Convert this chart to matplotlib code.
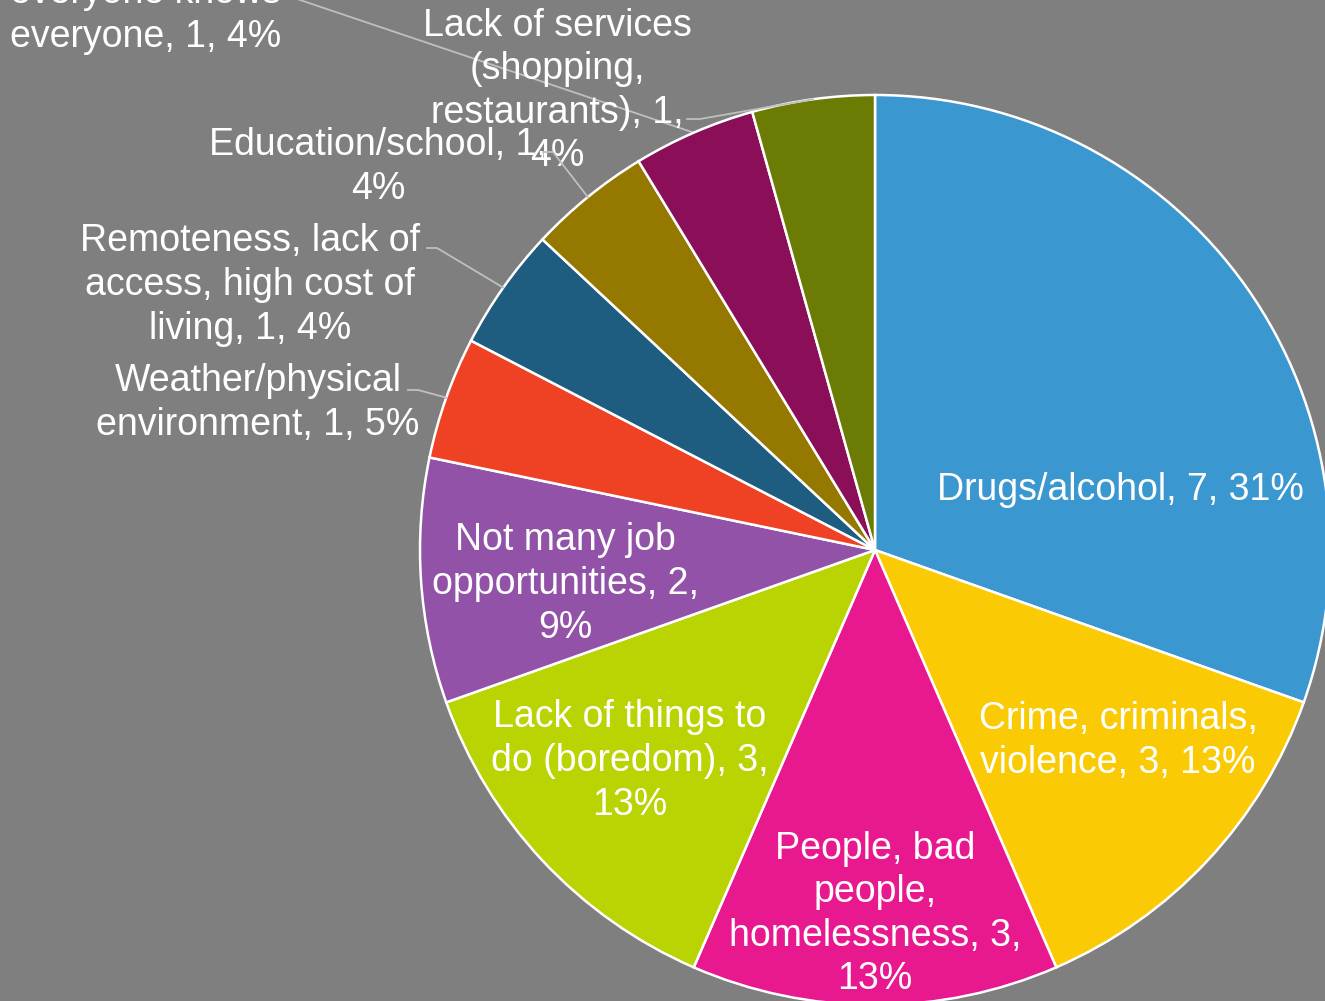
import numpy as np
import matplotlib
matplotlib.use("Agg")
from matplotlib import pyplot as plt

plt.rcParams['font.family'] = ['Liberation Sans', 'DejaVu Sans']

categories = ["Drugs/alcohol", "Crime, criminals,\nviolence", "People, bad\npeople,\nhomelessness",
              "Lack of things to\ndo (boredom)", "Not many job\nopportunities",
              "Weather/physical\nenvironment", "Remoteness, lack of\naccess, high cost of\nliving",
              "Education/school", "Small town,\neveryone knows\neveryone",
              "Lack of services\n(shopping,\nrestaurants)"]
counts = [7, 3, 3, 3, 2, 1, 1, 1, 1, 1]
percents = ["31%", "13%", "13%", "13%", "9%", "5%", "4%", "4%", "4%", "4%"]
colors = ["#3A97D0", "#FACB05", "#E8198F", "#B9D303", "#9252A8",
          "#EF4224", "#1E5C80", "#957800", "#8B0E58", "#6C7B04"]

# label texts as shown on the chart (line breaks as in the picture)
label_texts = [
    "Drugs/alcohol, 7, 31%",
    "Crime, criminals,\nviolence, 3, 13%",
    "People, bad\npeople,\nhomelessness, 3,\n13%",
    "Lack of things to\ndo (boredom), 3,\n13%",
    "Not many job\nopportunities, 2,\n9%",
    "Weather/physical\nenvironment, 1, 5%",
    "Remoteness, lack of\naccess, high cost of\nliving, 1, 4%",
    "Education/school, 1,\n4%",
    "Small town,\neveryone knows\neveryone, 1, 4%",
    "Lack of services\n(shopping,\nrestaurants), 1,\n4%",
]

W, H = 1325, 1001
# label positions (pixel coords, y from top)
label_pos = [(1120, 490), (1118, 741), (875, 914), (630, 761), (565, 584),
             (258, 403), (250, 285), (378, 167), (146, -7), (557, 91)]
# leader line elbows for outside labels: (start, elbow)
leaders = {5: [(408, 390), (418, 390)],
           6: [(427, 248), (437, 248)],
           7: [(543, 152), (553, 152)],
           8: [(295, -2), (300, 0)],
           9: [(687, 119), (700, 119)]}

def main():
	fig = plt.figure(figsize=(W / 100, H / 100), dpi=100)
	fig.patch.set_facecolor("#7F7F7F")
	ax = fig.add_axes([0, 0, 1, 1])
	ax.set_facecolor("#7F7F7F")

	cx, cy, r = 875, H - 550, 455
	wedges, _ = ax.pie(counts, colors=colors, startangle=90, counterclock=False,
	                   center=(cx, cy), radius=r,
	                   wedgeprops=dict(edgecolor="white", linewidth=1.8))
	ax.set_xlim(0, W)
	ax.set_ylim(0, H)
	ax.set_aspect("equal")
	ax.axis("off")

	for i, txt in enumerate(label_texts):
		x, y = label_pos[i]
		ax.text(x, H - y, txt, color="white", fontsize=27, ha="center", va="center",
		        linespacing=1.27)

	for i, pts in leaders.items():
		w = wedges[i]
		mid = np.deg2rad((w.theta1 + w.theta2) / 2)
		ex = cx + r * np.cos(mid)
		ey = cy + r * np.sin(mid)
		xs = [p[0] for p in pts] + [ex]
		ys = [H - p[1] for p in pts] + [ey]
		ax.plot(xs, ys, color="#BFBFBF", linewidth=1.3, zorder=0.5 if i == 8 else 3)

	fig.savefig("out.png", dpi=100, facecolor=fig.get_facecolor())

if __name__ == '__main__':
	main()
